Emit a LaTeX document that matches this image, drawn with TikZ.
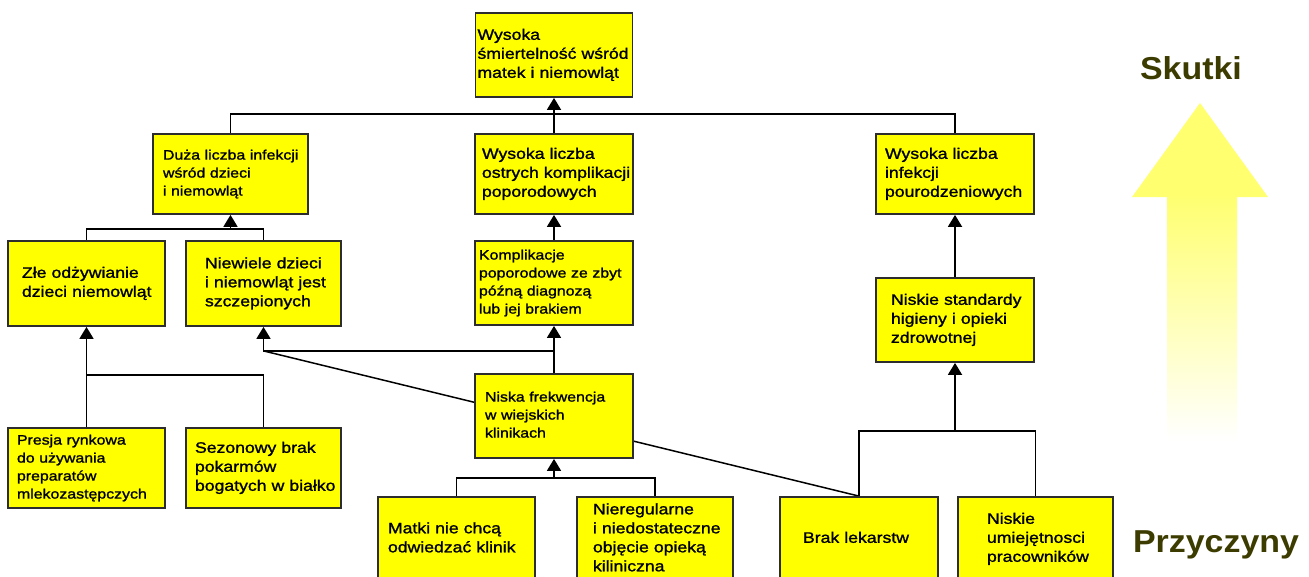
\documentclass[tikz,border=0pt]{standalone}
\usepackage{fontspec}
\setmainfont{Liberation Sans}
\newfontfamily\boxfont{Liberation Sans}[FakeStretch=1.16, FakeBold=1.3]
\newfontfamily\headfont{Liberation Sans}[FakeStretch=1.07]
\usetikzlibrary{arrows.meta,backgrounds}

\definecolor{boxyellow}{RGB}{255,255,0}
\definecolor{boxedge}{RGB}{45,45,45}
\definecolor{headolive}{RGB}{60,60,0}
\definecolor{arrowyellow}{RGB}{255,255,112}
\pgfdeclareverticalshading{arrowfade}{100bp}{color(0bp)=(white); color(27bp)=(white); color(62bp)=(arrowyellow); color(100bp)=(arrowyellow)}

% lines of a box label, never broken
\newcommand\boxlines[1]{\begin{tabular}{@{}l@{}}#1\end{tabular}}

\tikzset{
  cbox/.style n args={4}{draw=boxedge, line width=1.8pt, fill=boxyellow,
    minimum width=#1, minimum height=#2, inner xsep=#3, text width=#4,
    inner ysep=0pt, align=left, font=\boxfont\fontsize{15.2}{19}\selectfont},
  smalltext/.style={font=\boxfont\fontsize{13.7}{18}\selectfont},
  conn/.style={draw=black, line width=1.8pt},
  arr/.style={conn, -{Triangle[width=14pt,length=12pt]}},
  headlabel/.style={font=\headfont\bfseries\fontsize{31.7}{36}\selectfont, text=headolive, anchor=base, inner sep=0pt},
}

\begin{document}
\begin{tikzpicture}[x=1pt,y=-1pt]
\useasboundingbox (0,0) rectangle (1309,576);
\clip (0,0) rectangle (1309,576);

% effects
\node[cbox={157pt}{84pt}{2pt}{153pt}] (top) at (554,55) {\boxlines{Wysoka\\śmiertelność wśród\\matek i niemowląt}};
\node[cbox={155pt}{80pt}{10pt}{135pt}, smalltext] (duza) at (230.5,174) {\boxlines{Duża liczba infekcji\\wśród dzieci\\i niemowląt}};
\node[cbox={158pt}{80pt}{7pt}{144pt}] (ostr) at (554,174) {\boxlines{Wysoka liczba\\ostrych komplikacji\\poporodowych}};
\node[cbox={158pt}{80pt}{9pt}{140pt}] (pouro) at (955,174) {\boxlines{Wysoka liczba\\infekcji\\pourodzeniowych}};

% intermediate problems
\node[cbox={157pt}{85pt}{14pt}{129pt}] (zle) at (86.5,283.5) {\boxlines{Złe odżywianie\\dzieci niemowląt}};
\node[cbox={155pt}{85pt}{19pt}{117pt}] (niew) at (263.5,283.5) {\boxlines{Niewiele dzieci\\i niemowląt jest\\szczepionych}};
\node[cbox={158pt}{84pt}{4pt}{150pt}, smalltext] (kompl) at (554,283) {\boxlines{Komplikacje\\poporodowe ze zbyt\\późną diagnozą\\lub jej brakiem}};
\node[cbox={158pt}{84pt}{15pt}{128pt}] (nstd) at (955,320) {\boxlines{Niskie standardy\\higieny i opieki\\zdrowotnej}};
\node[cbox={158pt}{84pt}{10pt}{138pt}, smalltext] (nfrek) at (554,416) {\boxlines{Niska frekwencja\\w wiejskich\\klinikach}};

% causes
\node[cbox={157pt}{80pt}{9pt}{139pt}, smalltext] (presja) at (86.5,468) {\boxlines{Presja rynkowa\\do używania\\preparatów\\mlekozastępczych}};
\node[cbox={155pt}{80pt}{9pt}{137pt}] (sezon) at (263.5,468) {\boxlines{Sezonowy brak\\pokarmów\\bogatych w białko}};
\node[cbox={157pt}{84pt}{10pt}{137pt}] (matki) at (456.5,539) {\boxlines{Matki nie chcą\\odwiedzać klinik}};
\node[cbox={156pt}{84pt}{16pt}{124pt}] (niereg) at (655,539) {\boxlines{Nieregularne\\i niedostateczne\\objęcie opieką\\kiliniczna}};
\node[cbox={158pt}{84pt}{23pt}{112pt}] (brak) at (859,539) {\boxlines{Brak lekarstw}};
\node[cbox={155pt}{84pt}{29pt}{97pt}] (numiej) at (1035.5,539) {\boxlines{Niskie\\umiejętnosci\\pracowników}};

% junction points of the connectors
\path (top.south) ++(0,16) coordinate (t1);
\path (duza.south) ++(0,14) coordinate (t2);
\path (kompl.south) ++(0,25) coordinate (t3);
\coordinate (t4) at (niew.south |- t3);
\path (zle.south) ++(0,48) coordinate (t5);
\path (nfrek.south) ++(0,19) coordinate (t6);
\path (nstd.south) ++(0,68) coordinate (t7);

% connectors
\draw[conn] (duza.north) |- (t1) -| (pouro.north);
\draw[conn] (ostr.north) -- (t1);
\draw[arr] (t1) -- (top.south);

\draw[conn] (zle.north) |- (t2) -| (niew.north);
\draw[arr] (t2) -- (duza.south);

\draw[arr] (kompl.north) -- (ostr.south);
\draw[arr] (nstd.north) -- (pouro.south);

\draw[arr] (nfrek.north) -- (kompl.south);
\draw[arr] (t3) -| (niew.south);

\draw[conn] (presja.north) |- (t5) -| (sezon.north);
\draw[arr] (t5) -- (zle.south);

\draw[conn] (matki.north) |- (t6) -| (niereg.north);
\draw[arr] (t6) -- (nfrek.south);

\draw[conn] (brak.north) |- (t7) -| (numiej.north);
\draw[arr] (t7) -- (nstd.south);

% line from the medicine shortage, passing behind the clinic box
\begin{scope}[on background layer]
  \fill[white] (0,0) rectangle (1309,576);
  \draw[conn, line width=1.5pt] (brak.north) -- (t4);
\end{scope}

% direction arrow on the right
\shade[shading=arrowfade] (1200,103) -- (1268,197) -- (1237,197) -- (1237,455)
  -- (1167,455) -- (1167,197) -- (1132,197) -- cycle;
\node[headlabel] (skutki) at (1191,79) {Skutki};
\node[headlabel] (przyczyny) at (1216,552) {Przyczyny};
\end{tikzpicture}
\end{document}
